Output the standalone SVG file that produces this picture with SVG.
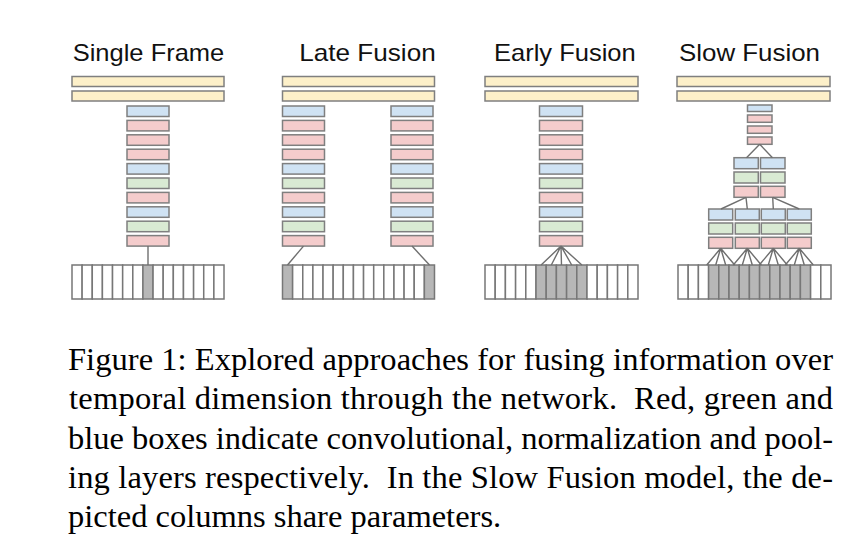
<svg xmlns="http://www.w3.org/2000/svg" width="862" height="549" viewBox="0 0 862 549">
<style>
.bg{fill:#ffffff}
.b{stroke:#7f7f7f;stroke-width:1.5}
.y{fill:#fdf0c9}
.bl{fill:#cfe2f3}
.r{fill:#f4cccc}
.g{fill:#d9ead3}
.w{fill:#ffffff;stroke:#777777;stroke-width:1.5}
.k{fill:#b7b7b7;stroke:#777777;stroke-width:1.5}
.c{stroke:#6f6f6f;stroke-width:1.4;fill:none}
.t{font-family:"Liberation Sans",Arial,sans-serif;font-size:24px;fill:#111}
.cap{font-family:"Liberation Serif","Times New Roman",serif;font-size:32.5px;fill:#000;white-space:pre}
</style>
<rect class="bg" x="0" y="0" width="862" height="549"/>

<g id="single-frame">
<text class="t" x="72.7" y="60.7" textLength="151.6" lengthAdjust="spacingAndGlyphs">Single Frame</text>
<rect class="b y" x="72" y="76.5" width="152" height="10"/>
<rect class="b y" x="72" y="91" width="152" height="10"/>
<rect class="b bl" x="127" y="106" width="42" height="10.5"/>
<rect class="b r" x="127" y="120.4" width="42" height="10.5"/>
<rect class="b r" x="127" y="134.8" width="42" height="10.5"/>
<rect class="b r" x="127" y="149.2" width="42" height="10.5"/>
<rect class="b bl" x="127" y="163.6" width="42" height="10.5"/>
<rect class="b g" x="127" y="178" width="42" height="10.5"/>
<rect class="b r" x="127" y="192.4" width="42" height="10.5"/>
<rect class="b bl" x="127" y="206.8" width="42" height="10.5"/>
<rect class="b g" x="127" y="221.2" width="42" height="10.5"/>
<rect class="b r" x="127" y="235.6" width="42" height="10.5"/>
<g>
<rect class="w" x="72" y="265" width="10.13" height="34"/>
<rect class="w" x="82.13" y="265" width="10.13" height="34"/>
<rect class="w" x="92.27" y="265" width="10.13" height="34"/>
<rect class="w" x="102.4" y="265" width="10.13" height="34"/>
<rect class="w" x="112.53" y="265" width="10.13" height="34"/>
<rect class="w" x="122.67" y="265" width="10.13" height="34"/>
<rect class="w" x="132.8" y="265" width="10.13" height="34"/>
<rect class="k" x="142.93" y="265" width="10.13" height="34"/>
<rect class="w" x="153.07" y="265" width="10.13" height="34"/>
<rect class="w" x="163.2" y="265" width="10.13" height="34"/>
<rect class="w" x="173.33" y="265" width="10.13" height="34"/>
<rect class="w" x="183.47" y="265" width="10.13" height="34"/>
<rect class="w" x="193.6" y="265" width="10.13" height="34"/>
<rect class="w" x="203.73" y="265" width="10.13" height="34"/>
<rect class="w" x="213.87" y="265" width="10.13" height="34"/>
</g>
</g>

<g id="late-fusion">
<text class="t" x="299.3" y="60.7" textLength="136.4" lengthAdjust="spacingAndGlyphs">Late Fusion</text>
<rect class="b y" x="282.5" y="76.5" width="152" height="10"/>
<rect class="b y" x="282.5" y="91" width="152" height="10"/>
<g>
<rect class="b bl" x="282.5" y="106" width="42" height="10.5"/>
<rect class="b r" x="282.5" y="120.4" width="42" height="10.5"/>
<rect class="b r" x="282.5" y="134.8" width="42" height="10.5"/>
<rect class="b r" x="282.5" y="149.2" width="42" height="10.5"/>
<rect class="b bl" x="282.5" y="163.6" width="42" height="10.5"/>
<rect class="b g" x="282.5" y="178" width="42" height="10.5"/>
<rect class="b r" x="282.5" y="192.4" width="42" height="10.5"/>
<rect class="b bl" x="282.5" y="206.8" width="42" height="10.5"/>
<rect class="b g" x="282.5" y="221.2" width="42" height="10.5"/>
<rect class="b r" x="282.5" y="235.6" width="42" height="10.5"/>
</g>
<g>
<rect class="b bl" x="391" y="106" width="42" height="10.5"/>
<rect class="b r" x="391" y="120.4" width="42" height="10.5"/>
<rect class="b r" x="391" y="134.8" width="42" height="10.5"/>
<rect class="b r" x="391" y="149.2" width="42" height="10.5"/>
<rect class="b bl" x="391" y="163.6" width="42" height="10.5"/>
<rect class="b g" x="391" y="178" width="42" height="10.5"/>
<rect class="b r" x="391" y="192.4" width="42" height="10.5"/>
<rect class="b bl" x="391" y="206.8" width="42" height="10.5"/>
<rect class="b g" x="391" y="221.2" width="42" height="10.5"/>
<rect class="b r" x="391" y="235.6" width="42" height="10.5"/>
</g>
<g>
<rect class="k" x="282.5" y="265" width="10.13" height="34"/>
<rect class="w" x="292.63" y="265" width="10.13" height="34"/>
<rect class="w" x="302.77" y="265" width="10.13" height="34"/>
<rect class="w" x="312.9" y="265" width="10.13" height="34"/>
<rect class="w" x="323.03" y="265" width="10.13" height="34"/>
<rect class="w" x="333.17" y="265" width="10.13" height="34"/>
<rect class="w" x="343.3" y="265" width="10.13" height="34"/>
<rect class="w" x="353.43" y="265" width="10.13" height="34"/>
<rect class="w" x="363.57" y="265" width="10.13" height="34"/>
<rect class="w" x="373.7" y="265" width="10.13" height="34"/>
<rect class="w" x="383.83" y="265" width="10.13" height="34"/>
<rect class="w" x="393.97" y="265" width="10.13" height="34"/>
<rect class="w" x="404.1" y="265" width="10.13" height="34"/>
<rect class="w" x="414.23" y="265" width="10.13" height="34"/>
<rect class="k" x="424.37" y="265" width="10.13" height="34"/>
</g>
</g>

<g id="early-fusion">
<text class="t" x="494" y="60.7" textLength="141.7" lengthAdjust="spacingAndGlyphs">Early Fusion</text>
<rect class="b y" x="485" y="76.5" width="153" height="10"/>
<rect class="b y" x="485" y="91" width="153" height="10"/>
<rect class="b bl" x="539.5" y="106" width="43" height="10.5"/>
<rect class="b r" x="539.5" y="120.4" width="43" height="10.5"/>
<rect class="b r" x="539.5" y="134.8" width="43" height="10.5"/>
<rect class="b r" x="539.5" y="149.2" width="43" height="10.5"/>
<rect class="b bl" x="539.5" y="163.6" width="43" height="10.5"/>
<rect class="b g" x="539.5" y="178" width="43" height="10.5"/>
<rect class="b r" x="539.5" y="192.4" width="43" height="10.5"/>
<rect class="b bl" x="539.5" y="206.8" width="43" height="10.5"/>
<rect class="b g" x="539.5" y="221.2" width="43" height="10.5"/>
<rect class="b r" x="539.5" y="235.6" width="43" height="10.5"/>
<g>
<rect class="w" x="485" y="265" width="10.2" height="34"/>
<rect class="w" x="495.2" y="265" width="10.2" height="34"/>
<rect class="w" x="505.4" y="265" width="10.2" height="34"/>
<rect class="w" x="515.6" y="265" width="10.2" height="34"/>
<rect class="w" x="525.8" y="265" width="10.2" height="34"/>
<rect class="k" x="536" y="265" width="10.2" height="34"/>
<rect class="k" x="546.2" y="265" width="10.2" height="34"/>
<rect class="k" x="556.4" y="265" width="10.2" height="34"/>
<rect class="k" x="566.6" y="265" width="10.2" height="34"/>
<rect class="k" x="576.8" y="265" width="10.2" height="34"/>
<rect class="w" x="587" y="265" width="10.2" height="34"/>
<rect class="w" x="597.2" y="265" width="10.2" height="34"/>
<rect class="w" x="607.4" y="265" width="10.2" height="34"/>
<rect class="w" x="617.6" y="265" width="10.2" height="34"/>
<rect class="w" x="627.8" y="265" width="10.2" height="34"/>
</g>
</g>

<g id="slow-fusion">
<text class="t" x="679" y="60.7" textLength="141" lengthAdjust="spacingAndGlyphs">Slow Fusion</text>
<rect class="b y" x="677" y="76.5" width="153" height="10"/>
<rect class="b y" x="677" y="91" width="153" height="10"/>
<g>
<rect class="b bl" x="747.5" y="105" width="24.5" height="6.5"/>
<rect class="b r" x="747.5" y="115" width="24.5" height="7.3"/>
<rect class="b r" x="747.5" y="126" width="24.5" height="7.3"/>
<rect class="b r" x="747.5" y="137" width="24.5" height="7.3"/>
</g>
<g>
<rect class="b bl" x="734" y="157.7" width="24.3" height="11"/>
<rect class="b g" x="734" y="172" width="24.3" height="11"/>
<rect class="b r" x="734" y="186.3" width="24.3" height="11"/>
<rect class="b bl" x="760.5" y="157.7" width="24.5" height="11"/>
<rect class="b g" x="760.5" y="172" width="24.5" height="11"/>
<rect class="b r" x="760.5" y="186.3" width="24.5" height="11"/>
</g>
<g>
<rect class="b bl" x="708.7" y="209" width="24" height="11"/>
<rect class="b g" x="708.7" y="223" width="24" height="11"/>
<rect class="b r" x="708.7" y="237.3" width="24" height="11"/>
<rect class="b bl" x="735.3" y="209" width="24" height="11"/>
<rect class="b g" x="735.3" y="223" width="24" height="11"/>
<rect class="b r" x="735.3" y="237.3" width="24" height="11"/>
<rect class="b bl" x="761.3" y="209" width="24" height="11"/>
<rect class="b g" x="761.3" y="223" width="24" height="11"/>
<rect class="b r" x="761.3" y="237.3" width="24" height="11"/>
<rect class="b bl" x="787.3" y="209" width="24" height="11"/>
<rect class="b g" x="787.3" y="223" width="24" height="11"/>
<rect class="b r" x="787.3" y="237.3" width="24" height="11"/>
</g>
<g>
<rect class="w" x="678" y="265" width="10.2" height="34"/>
<rect class="w" x="688.2" y="265" width="10.2" height="34"/>
<rect class="w" x="698.4" y="265" width="10.2" height="34"/>
<rect class="k" x="708.6" y="265" width="10.2" height="34"/>
<rect class="k" x="718.8" y="265" width="10.2" height="34"/>
<rect class="k" x="729" y="265" width="10.2" height="34"/>
<rect class="k" x="739.2" y="265" width="10.2" height="34"/>
<rect class="k" x="749.4" y="265" width="10.2" height="34"/>
<rect class="k" x="759.6" y="265" width="10.2" height="34"/>
<rect class="k" x="769.8" y="265" width="10.2" height="34"/>
<rect class="k" x="780" y="265" width="10.2" height="34"/>
<rect class="k" x="790.2" y="265" width="10.2" height="34"/>
<rect class="k" x="800.4" y="265" width="10.2" height="34"/>
<rect class="w" x="810.6" y="265" width="10.2" height="34"/>
<rect class="w" x="820.8" y="265" width="10.2" height="34"/>
</g>
</g>

<g id="connectors">
<line class="c" x1="148" y1="246.1" x2="148" y2="265"/>
<line class="c" x1="303.5" y1="246.1" x2="287.5" y2="265"/>
<line class="c" x1="412" y1="246.1" x2="429.5" y2="265"/>
<path class="c" d="M561,246.1 L541.1,265 M561,246.1 L551.3,265 M561,246.1 L561.5,265 M561,246.1 L571.7,265 M561,246.1 L581.9,265"/>
<path class="c" d="M759.7,144.3 L746.5,157.7 M759.7,144.3 L772.5,157.7"/>
<path class="c" d="M746,197.3 L721,209 M746,197.3 L747.3,209 M772.7,197.3 L773.3,209 M772.7,197.3 L799.3,209"/>
<path class="c" d="M720.7,248.3 L706.7,265 M720.7,248.3 L715.7,265 M720.7,248.3 L725.7,265 M720.7,248.3 L734.7,265"/>
<path class="c" d="M747.3,248.3 L733.3,265 M747.3,248.3 L742.3,265 M747.3,248.3 L752.3,265 M747.3,248.3 L761.3,265"/>
<path class="c" d="M773.3,248.3 L759.3,265 M773.3,248.3 L768.3,265 M773.3,248.3 L778.3,265 M773.3,248.3 L787.3,265"/>
<path class="c" d="M799.3,248.3 L785.3,265 M799.3,248.3 L794.3,265 M799.3,248.3 L804.3,265 M799.3,248.3 L813.3,265"/>
</g>

<g id="caption">
<text class="cap" x="68" y="370" textLength="765" lengthAdjust="spacing">Figure 1: Explored approaches for fusing information over</text>
<text class="cap" x="69" y="409" textLength="764" lengthAdjust="spacing">temporal dimension through the network.  Red, green and</text>
<text class="cap" x="68" y="448.5" textLength="765" lengthAdjust="spacing">blue boxes indicate convolutional, normalization and pool-</text>
<text class="cap" x="68" y="487.5" textLength="765" lengthAdjust="spacing">ing layers respectively.  In the Slow Fusion model, the de-</text>
<text class="cap" x="68" y="526.5">picted columns share parameters.</text>
</g>
</svg>
